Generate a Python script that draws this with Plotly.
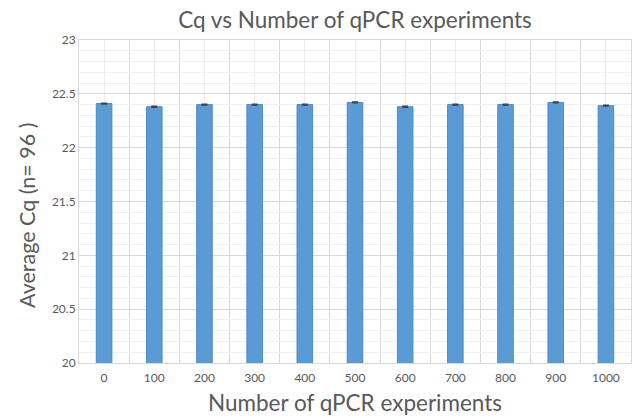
import plotly.graph_objects as go

categories = [0, 100, 200, 300, 400, 500, 600, 700, 800, 900, 1000]
avg_cq = [22.41, 22.38, 22.40, 22.40, 22.40, 22.42, 22.38, 22.40, 22.40, 22.42, 22.39]
err = [0.005] * 11

fig = go.Figure(go.Bar(
    x=categories, y=avg_cq, width=31,
    marker=dict(color="#5B9BD5", line=dict(color="#4A8AC6", width=1)),
    error_y=dict(type="data", array=err, color="#404040", thickness=1.2, width=3),
))

font_family = "Lato, Open Sans, sans-serif"
fig.update_layout(
    width=643, height=418,
    margin=dict(l=79, r=12, t=40, b=55, autoexpand=False),
    paper_bgcolor="white", plot_bgcolor="white",
    title=dict(text="Cq vs Number of qPCR experiments", x=0.5, xref="paper", xanchor="center",
               y=0.953, yanchor="middle",
               font=dict(family=font_family, size=22.5, color="#595959")),
    font=dict(family=font_family, color="#595959"),
    showlegend=False,
    annotations=[dict(
        text="Average Cq (n= 96 )", textangle=-90, showarrow=False,
        xref="paper", yref="paper", x=(27 - 79) / 552, y=(363 - 215) / 323,
        xanchor="center", yanchor="middle",
        font=dict(family=font_family, size=21.5, color="#595959"),
    )],
)
fig.update_xaxes(
    range=[-50, 1050], tickmode="array", tickvals=categories,
    ticktext=[str(c) for c in categories],
    tickfont=dict(size=12, color="#595959"),
    ticklabelstandoff=4,
    showgrid=True, gridcolor="#EDEDED", gridwidth=1,
    minor=dict(tick0=50, dtick=100, showgrid=True, gridcolor="#D9D9D9", gridwidth=1),
    showline=True, linecolor="#D9D9D9", mirror=True,
    zeroline=False, ticks="", automargin=False,
    title=dict(text="Number of qPCR experiments", font=dict(size=22.5, color="#595959"), standoff=10),
)
fig.update_yaxes(
    range=[20, 23], dtick=0.5, tick0=20,
    tickfont=dict(size=12, color="#595959"),
    showgrid=True, gridcolor="#D9D9D9", gridwidth=1,
    minor=dict(dtick=0.1, showgrid=True, gridcolor="#F0F0F0", gridwidth=1),
    showline=True, linecolor="#D9D9D9", mirror=True,
    zeroline=False, ticks="", automargin=False,
)

fig.write_html("out.html", config={"displayModeBar": False},
               post_script="document.body.style.margin='0';")
